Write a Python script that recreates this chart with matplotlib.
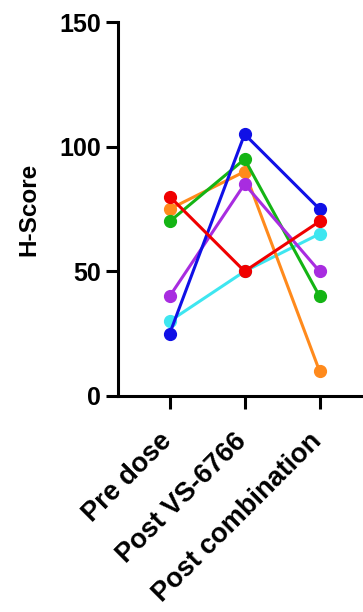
import matplotlib
matplotlib.use("Agg")
import matplotlib.pyplot as plt
from matplotlib.transforms import ScaledTranslation

plt.rcParams['font.family'] = ['Liberation Sans', 'DejaVu Sans']
plt.rcParams['font.weight'] = 'bold'

# timepoints
groups = ['Pre dose', 'Post VS-6766', 'Post combination']

# H-score per patient across timepoints
cyan = [30, 50, 65]
orange = [75, 90, 10]
green = [70, 95, 40]
purple = [40, 85, 50]
blue = [25, 105, 75]
red = [80, 50, 70]

series = [(cyan, '#3ee6f0'), (orange, '#ff8a1c'), (green, '#14b414'),
          (purple, '#a82ce0'), (blue, '#1010e6'), (red, '#f00000')]

fig = plt.figure(figsize=(3.63, 6.12), dpi=100)
ax = fig.add_axes([0.325, 0.353, 0.675, 0.611])

x = list(range(len(groups)))
for vals, col in series:
    ax.plot(x, vals, color=col, lw=2.2, marker='o', ms=8.5, mec=col, mfc=col)

ax.set_xlim(-0.69, 2.58)
ax.set_ylim(0, 150)
ax.set_yticks([0, 50, 100, 150])
ax.set_xticks(x)
ax.set_xticklabels(groups, rotation=45, ha='right', va='top',
                   rotation_mode='anchor', fontsize=19.5, fontweight='bold')
ax.tick_params(axis='y', labelsize=18, width=2.2, length=9, pad=3)
ax.tick_params(axis='x', width=2.2, length=9, pad=14)
for lab in ax.get_yticklabels():
    lab.set_fontweight('bold')
# nudge the slanted labels a bit to the left
shift = ScaledTranslation(-0.11, 0, fig.dpi_scale_trans)
for lab in ax.get_xticklabels():
    lab.set_transform(lab.get_transform() + shift)
ax.set_ylabel('H-Score', fontsize=17.5, fontweight='bold', labelpad=14)

ax.spines['top'].set_visible(False)
ax.spines['right'].set_visible(False)
ax.spines['left'].set_linewidth(2.2)
ax.spines['bottom'].set_linewidth(2.2)

fig.savefig('out.png', dpi=100)
